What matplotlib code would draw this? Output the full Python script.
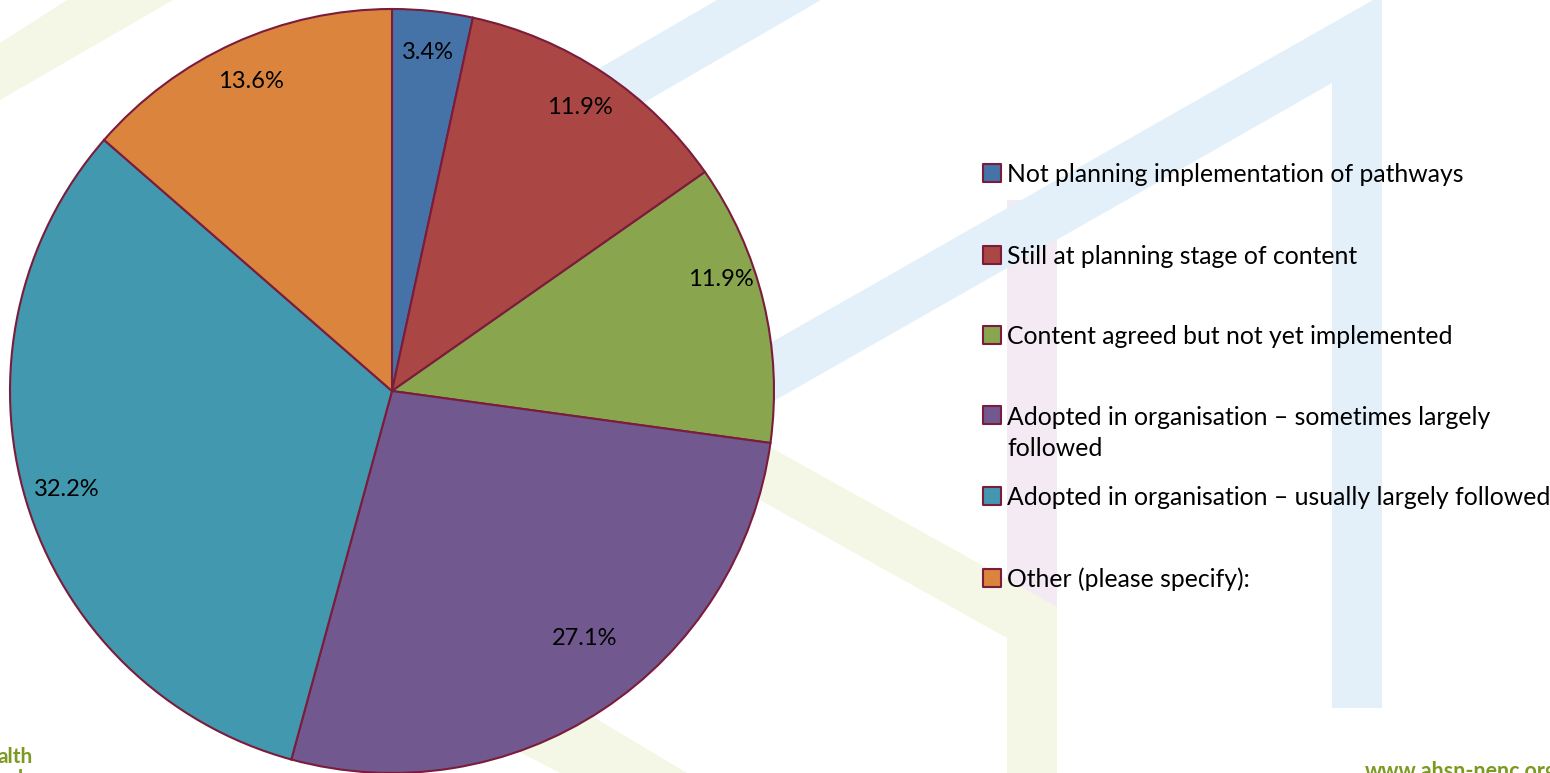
import numpy as np
import matplotlib.pyplot as plt
from matplotlib.patches import Polygon

plt.rcParams['font.family'] = ['Lato', 'DejaVu Sans']

# Data
categories = [
    'Not planning implementation of pathways',
    'Still at planning stage of content',
    'Content agreed but not yet implemented',
    'Adopted in organisation \u2013 sometimes largely\nfollowed',
    'Adopted in organisation \u2013 usually largely followed',
    'Other (please specify):',
]
shares = [3.4, 11.9, 11.9, 27.1, 32.2, 13.6]
colors = ['#4572A7', '#AA4643', '#89A54E', '#71588F', '#4198AF', '#DB843D']
edge = '#7B1C3C'

W, H = 1550, 773
fig = plt.figure(figsize=(W / 100, H / 100), dpi=100)
fig.patch.set_facecolor('white')

# background slide decoration (pixel coords)
bg = fig.add_axes([0, 0, 1, 1])
bg.set_xlim(0, W)
bg.set_ylim(H, 0)
bg.axis('off')
blue, green, pink = '#E3F0F9', '#F4F7E5', '#F4EAF3'

# pink vertical stripe
bg.add_patch(Polygon([(1007, 200), (1057, 200), (1057, 607), (1007, 638)], color=pink, lw=0))
# green strokes
bg.add_patch(Polygon([(770, 447), (1057, 607), (1057, 773), (1007, 773), (1007, 638), (760, 500)],
                     color=green, lw=0))
bg.add_patch(Polygon([(400, 450), (595, 718), (687, 773), (560, 773), (400, 690)], color=green, lw=0))
bg.add_patch(Polygon([(0, 43), (67, 0), (173, 0), (0, 100)], color=green, lw=0))
# blue strokes
bg.add_patch(Polygon([(717, 0), (821, 0), (450, 215), (450, 155)], color=blue, lw=0))
bg.add_patch(Polygon([(1373, 0), (1382, 0), (1382, 708), (1332, 708), (1332, 83),
                      (700, 443), (700, 383)], color=blue, lw=0))

# footer bits of the slide (cropped like in the original)
bg.text(-2, 763, 'alth', color='#7C9A22', fontsize=15, fontweight='bold', va='baseline')
bg.text(-2, 785, 'ork', color='#7C9A22', fontsize=15, fontweight='bold', va='baseline')
bg.text(1365, 778, 'www.ahsn-nenc.org', color='#7C9A22', fontsize=15.5, fontweight='bold',
        va='baseline')

# pie
cx, cy, r = 392, 391, 382
ax = fig.add_axes([(cx - r) / W, (H - cy - r) / H, 2 * r / W, 2 * r / H])
wedges, texts, pcts = ax.pie(shares, colors=colors, startangle=90, counterclock=False,
                             autopct='%1.1f%%', pctdistance=0.89,
                             wedgeprops=dict(edgecolor=edge, linewidth=1.5),
                             textprops=dict(fontsize=17, color='black'))
for w in wedges:
    w.set_clip_on(False)
ax.set_xlim(-1, 1)
ax.set_ylim(-1, 1)
ax.set_aspect('equal')
# Excel's best-fit placement for two labels
pcts[2].set_position((0.861, 0.293))
pcts[3].set_position((0.505, -0.647))

# legend drawn on the slide
rows = [173, 255, 335, 415, 496, 578]
gap = 32
for lab, col, y in zip(categories, colors, rows):
    bg.scatter(992, y, marker='s', s=150, color=col, edgecolor=edge, linewidth=1.5, zorder=5)
    extra = lab.count('\n') * gap  # baseline alignment uses the last line
    bg.text(1007, y + 9 + extra, lab, fontsize=17.8, va='baseline', ha='left', color='black',
            linespacing=1.43, zorder=5)

fig.savefig('out.png', dpi=100, facecolor='white')
